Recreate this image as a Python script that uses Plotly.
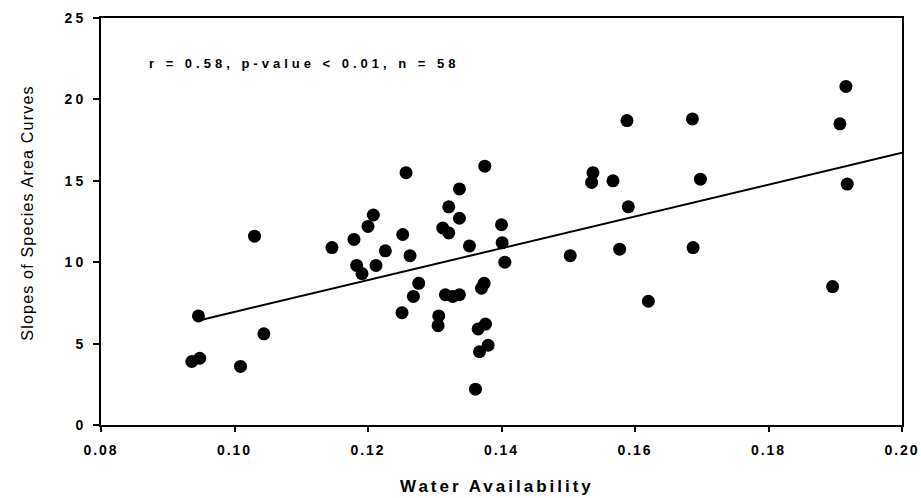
import numpy as np
import plotly.graph_objects as go

# Water availability vs. slope of species-area curves
water = [
    0.1030, 0.0946, 0.1044, 0.0936, 0.0948, 0.1009,
    0.1257, 0.1375, 0.1337, 0.1208, 0.1321, 0.1337, 0.1200, 0.1312, 0.1321,
    0.1252, 0.1179, 0.1146, 0.1352, 0.1226, 0.1263, 0.1183, 0.1212, 0.1191,
    0.1276, 0.1268, 0.1316, 0.1327, 0.1337, 0.1374, 0.1370, 0.1251, 0.1306,
    0.1305, 0.1376, 0.1365, 0.1380, 0.1367, 0.1361,
    0.1400, 0.1401, 0.1405,
    0.1916, 0.1588, 0.1686, 0.1907, 0.1537, 0.1535, 0.1567, 0.1698, 0.1918,
    0.1590, 0.1503, 0.1577, 0.1687, 0.1896, 0.1620,
]
slopes = [
    11.6, 6.7, 5.6, 3.9, 4.1, 3.6,
    15.5, 15.9, 14.5, 12.9, 13.4, 12.7, 12.2, 12.1, 11.8,
    11.7, 11.4, 10.9, 11.0, 10.7, 10.4, 9.8, 9.8, 9.3,
    8.7, 7.9, 8.0, 7.9, 8.0, 8.7, 8.4, 6.9, 6.7,
    6.1, 6.2, 5.9, 4.9, 4.5, 2.2,
    12.3, 11.2, 10.0,
    20.8, 18.7, 18.8, 18.5, 15.5, 14.9, 15.0, 15.1, 14.8,
    13.4, 10.4, 10.8, 10.9, 8.5, 7.6,
]

# Regression line end points
fit_x = [0.0948, 0.2000]
fit_y = [6.44, 16.72]

x_ticks = [0.08, 0.10, 0.12, 0.14, 0.16, 0.18, 0.20]
x_tick_text = ["0.08", "0.10", "0.12", "0.14", "0.16", "0.18", "0.20"]
y_ticks = [0, 5, 10, 15, 20, 25]
y_tick_text = ["0", "5", "10", "15", "20", "25"]

stats_text = "r = 0.58, p-value < 0.01, n = 58"
x_title = "Water Availability"
y_title = "Slopes of Species Area Curves"


def spaced(text, px):
    """Wrap text in a span with extra letter spacing."""
    return f'<span style="letter-spacing:{px}px">{text}</span>'


fig = go.Figure()
fig.add_trace(go.Scatter(
    x=fit_x, y=fit_y, mode="lines",
    line=dict(color="black", width=2),
    hoverinfo="skip", showlegend=False,
))
fig.add_trace(go.Scatter(
    x=water, y=slopes, mode="markers",
    marker=dict(color="black", size=13, line=dict(width=0)),
    showlegend=False,
))

tick_font = dict(family="Liberation Sans", size=14, color="black", weight="bold")

fig.update_xaxes(
    range=[0.08, 0.2000001], tickvals=x_ticks,
    ticktext=[spaced(t, 2) for t in x_tick_text],
    showgrid=False, zeroline=False,
    showline=True, linecolor="black", linewidth=2, mirror=True,
    ticks="outside", ticklen=5, tickwidth=1.5, tickcolor="black",
    tickfont=tick_font, ticklabelstandoff=6, ticklabeloverflow="allow",
    automargin=False,
)
fig.update_yaxes(
    range=[0, 25], tickvals=y_ticks,
    ticktext=[spaced(t, 3) for t in y_tick_text],
    showgrid=False, zeroline=False,
    showline=True, linecolor="black", linewidth=2, mirror=True,
    ticks="outside", ticklen=6, tickwidth=1.5, tickcolor="black",
    tickfont=tick_font, ticklabelstandoff=4, ticklabeloverflow="allow",
    automargin=False,
)

fig.add_annotation(
    text=spaced(x_title, 3),
    xref="paper", yref="paper", x=0.495, y=-0.15,
    showarrow=False, xanchor="center", yanchor="middle",
    font=dict(family="Liberation Sans", size=17, color="black", weight="bold"),
)
fig.add_annotation(
    text=spaced(y_title, 1.2), textangle=-90,
    xref="paper", yref="paper", x=-0.092, y=0.52,
    showarrow=False, xanchor="center", yanchor="middle",
    font=dict(family="Liberation Sans", size=16, color="black"),
)
fig.add_annotation(
    text=spaced(stats_text, 4),
    xref="paper", yref="paper", x=0.058, y=0.888,
    showarrow=False, xanchor="left", yanchor="middle",
    font=dict(family="Liberation Sans", size=13, color="black", weight="bold"),
)

fig.update_layout(
    width=921, height=498,
    margin=dict(l=101, r=19, t=18, b=73),
    plot_bgcolor="white", paper_bgcolor="white",
)

fig.write_html("out.html")
